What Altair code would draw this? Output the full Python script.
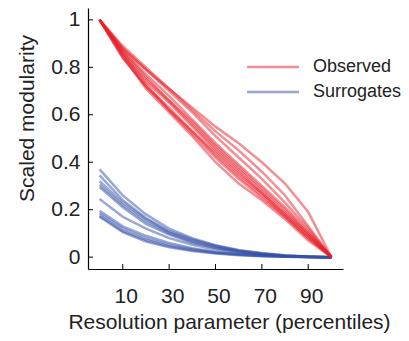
import altair as alt
import pandas as pd

# x positions (percentiles)
x_vals = [0, 10, 20, 30, 40, 50, 60, 70, 80, 90, 100]

observed = [
    [1, 0.88, 0.79, 0.71, 0.63, 0.55, 0.48, 0.40, 0.31, 0.19, 0],
    [1, 0.89, 0.80, 0.71, 0.62, 0.53, 0.45, 0.36, 0.26, 0.13, 0],
    [1, 0.88, 0.79, 0.70, 0.61, 0.51, 0.42, 0.33, 0.23, 0.12, 0],
    [1, 0.87, 0.77, 0.68, 0.58, 0.48, 0.39, 0.30, 0.21, 0.11, 0],
    [1, 0.86, 0.75, 0.66, 0.56, 0.46, 0.37, 0.28, 0.19, 0.10, 0],
    [1, 0.85, 0.74, 0.65, 0.55, 0.45, 0.36, 0.27, 0.18, 0.09, 0],
    [1, 0.84, 0.72, 0.63, 0.53, 0.43, 0.34, 0.26, 0.17, 0.08, 0],
    [1, 0.86, 0.73, 0.62, 0.52, 0.42, 0.33, 0.25, 0.17, 0.08, 0],
    [1, 0.85, 0.71, 0.61, 0.51, 0.40, 0.31, 0.24, 0.16, 0.07, 0],
    [1, 0.87, 0.76, 0.66, 0.57, 0.47, 0.38, 0.29, 0.20, 0.10, 0],
    [1, 0.84, 0.72, 0.62, 0.53, 0.44, 0.35, 0.27, 0.18, 0.09, 0],
]

surrogates = [
    [0.370, 0.260, 0.180, 0.120, 0.080, 0.050, 0.030, 0.017, 0.008, 0.003, 0],
    [0.345, 0.240, 0.165, 0.110, 0.075, 0.048, 0.028, 0.015, 0.007, 0.002, 0],
    [0.320, 0.230, 0.160, 0.105, 0.070, 0.045, 0.026, 0.014, 0.006, 0.002, 0],
    [0.305, 0.220, 0.150, 0.100, 0.065, 0.040, 0.024, 0.012, 0.005, 0.002, 0],
    [0.295, 0.210, 0.140, 0.095, 0.060, 0.038, 0.022, 0.011, 0.005, 0.001, 0],
    [0.245, 0.170, 0.120, 0.080, 0.052, 0.032, 0.018, 0.009, 0.004, 0.001, 0],
    [0.195, 0.130, 0.090, 0.060, 0.038, 0.023, 0.013, 0.007, 0.003, 0.001, 0],
    [0.185, 0.120, 0.080, 0.052, 0.033, 0.020, 0.011, 0.006, 0.003, 0.001, 0],
    [0.175, 0.110, 0.072, 0.046, 0.029, 0.017, 0.010, 0.005, 0.002, 0.001, 0],
    [0.170, 0.105, 0.066, 0.042, 0.026, 0.015, 0.008, 0.004, 0.002, 0.001, 0],
]

series_names = ["Observed", "Surrogates"]
series_colors = ["#e8202a", "#3450a8"]

x_ticks = [10, 30, 50, 70, 90]
y_ticks = [0, 0.2, 0.4, 0.6, 0.8, 1]

rows = []
for i, ys in enumerate(surrogates):
    for x, y in zip(x_vals, ys):
        rows.append({"x": x, "y": y, "line": f"s{i}", "group": "Surrogates", "order": 0})
for i, ys in enumerate(observed):
    for x, y in zip(x_vals, ys):
        rows.append({"x": x, "y": y, "line": f"o{i}", "group": "Observed", "order": 1})
df = pd.DataFrame(rows)

W, H = 255, 261
FONT = "Liberation Sans"

xscale = alt.Scale(domain=[-5, 105], nice=False, zero=False)
yscale = alt.Scale(domain=[-0.05, 1.05], nice=False, zero=False)

lines = alt.Chart(df).mark_line(strokeWidth=2.5, opacity=0.5).encode(
    x=alt.X("x:Q", scale=xscale,
            axis=alt.Axis(values=x_ticks, title="Resolution parameter (percentiles)",
                          grid=False, ticks=False, labelPadding=16, labelOffset=3,
                          titleX=141, titleY=59, titleBaseline="alphabetic",
                          titleAlign="center")),
    y=alt.Y("y:Q", scale=yscale,
            axis=alt.Axis(values=y_ticks, title="Scaled modularity", grid=False,
                          ticks=False, labelPadding=8,
                          titleX=-61, titleY=110, titleBaseline="middle",
                          labelExpr="datum.value == 0 ? '0' : datum.value == 1 ? '1' : format(datum.value, '.1f')")),
    color=alt.Color("group:N", scale=alt.Scale(domain=series_names, range=series_colors),
                    legend=alt.Legend(title=None, orient="none", legendX=176, legendY=50,
                                      symbolType="M-5,0H5", symbolSize=108,
                                      symbolStrokeWidth=2.5, labelFontSize=18,
                                      labelFont=FONT, labelOffset=31, rowPadding=7,
                                      padding=0)),
    detail="line:N",
    order="order:Q",
)

xt = pd.DataFrame({"v": x_ticks})
yt = pd.DataFrame({"v": y_ticks})
xtick_marks = alt.Chart(xt).mark_rule(color="black", strokeWidth=1).encode(
    x=alt.X("v:Q", scale=xscale), y=alt.value(H), y2=alt.value(H - 5))
ytick_marks = alt.Chart(yt).mark_rule(color="black", strokeWidth=1).encode(
    y=alt.Y("v:Q", scale=yscale), x=alt.value(0), x2=alt.value(5))

chart = alt.layer(lines, xtick_marks, ytick_marks).properties(
    width=W, height=H,
    autosize=alt.AutoSizeParams(type="none"),
    padding={"left": 80, "top": 0, "right": 58, "bottom": 64},
).configure_view(stroke=None).configure_axis(
    domainColor="black", domainWidth=1.2, labelFont=FONT, titleFont=FONT,
    labelFontSize=21, titleFontSize=21, labelColor="#222", titleColor="#222",
    titleFontWeight="normal",
).configure_legend(labelColor="#222")

chart.save("out.html", embed_options={"renderer": "svg", "actions": False})
